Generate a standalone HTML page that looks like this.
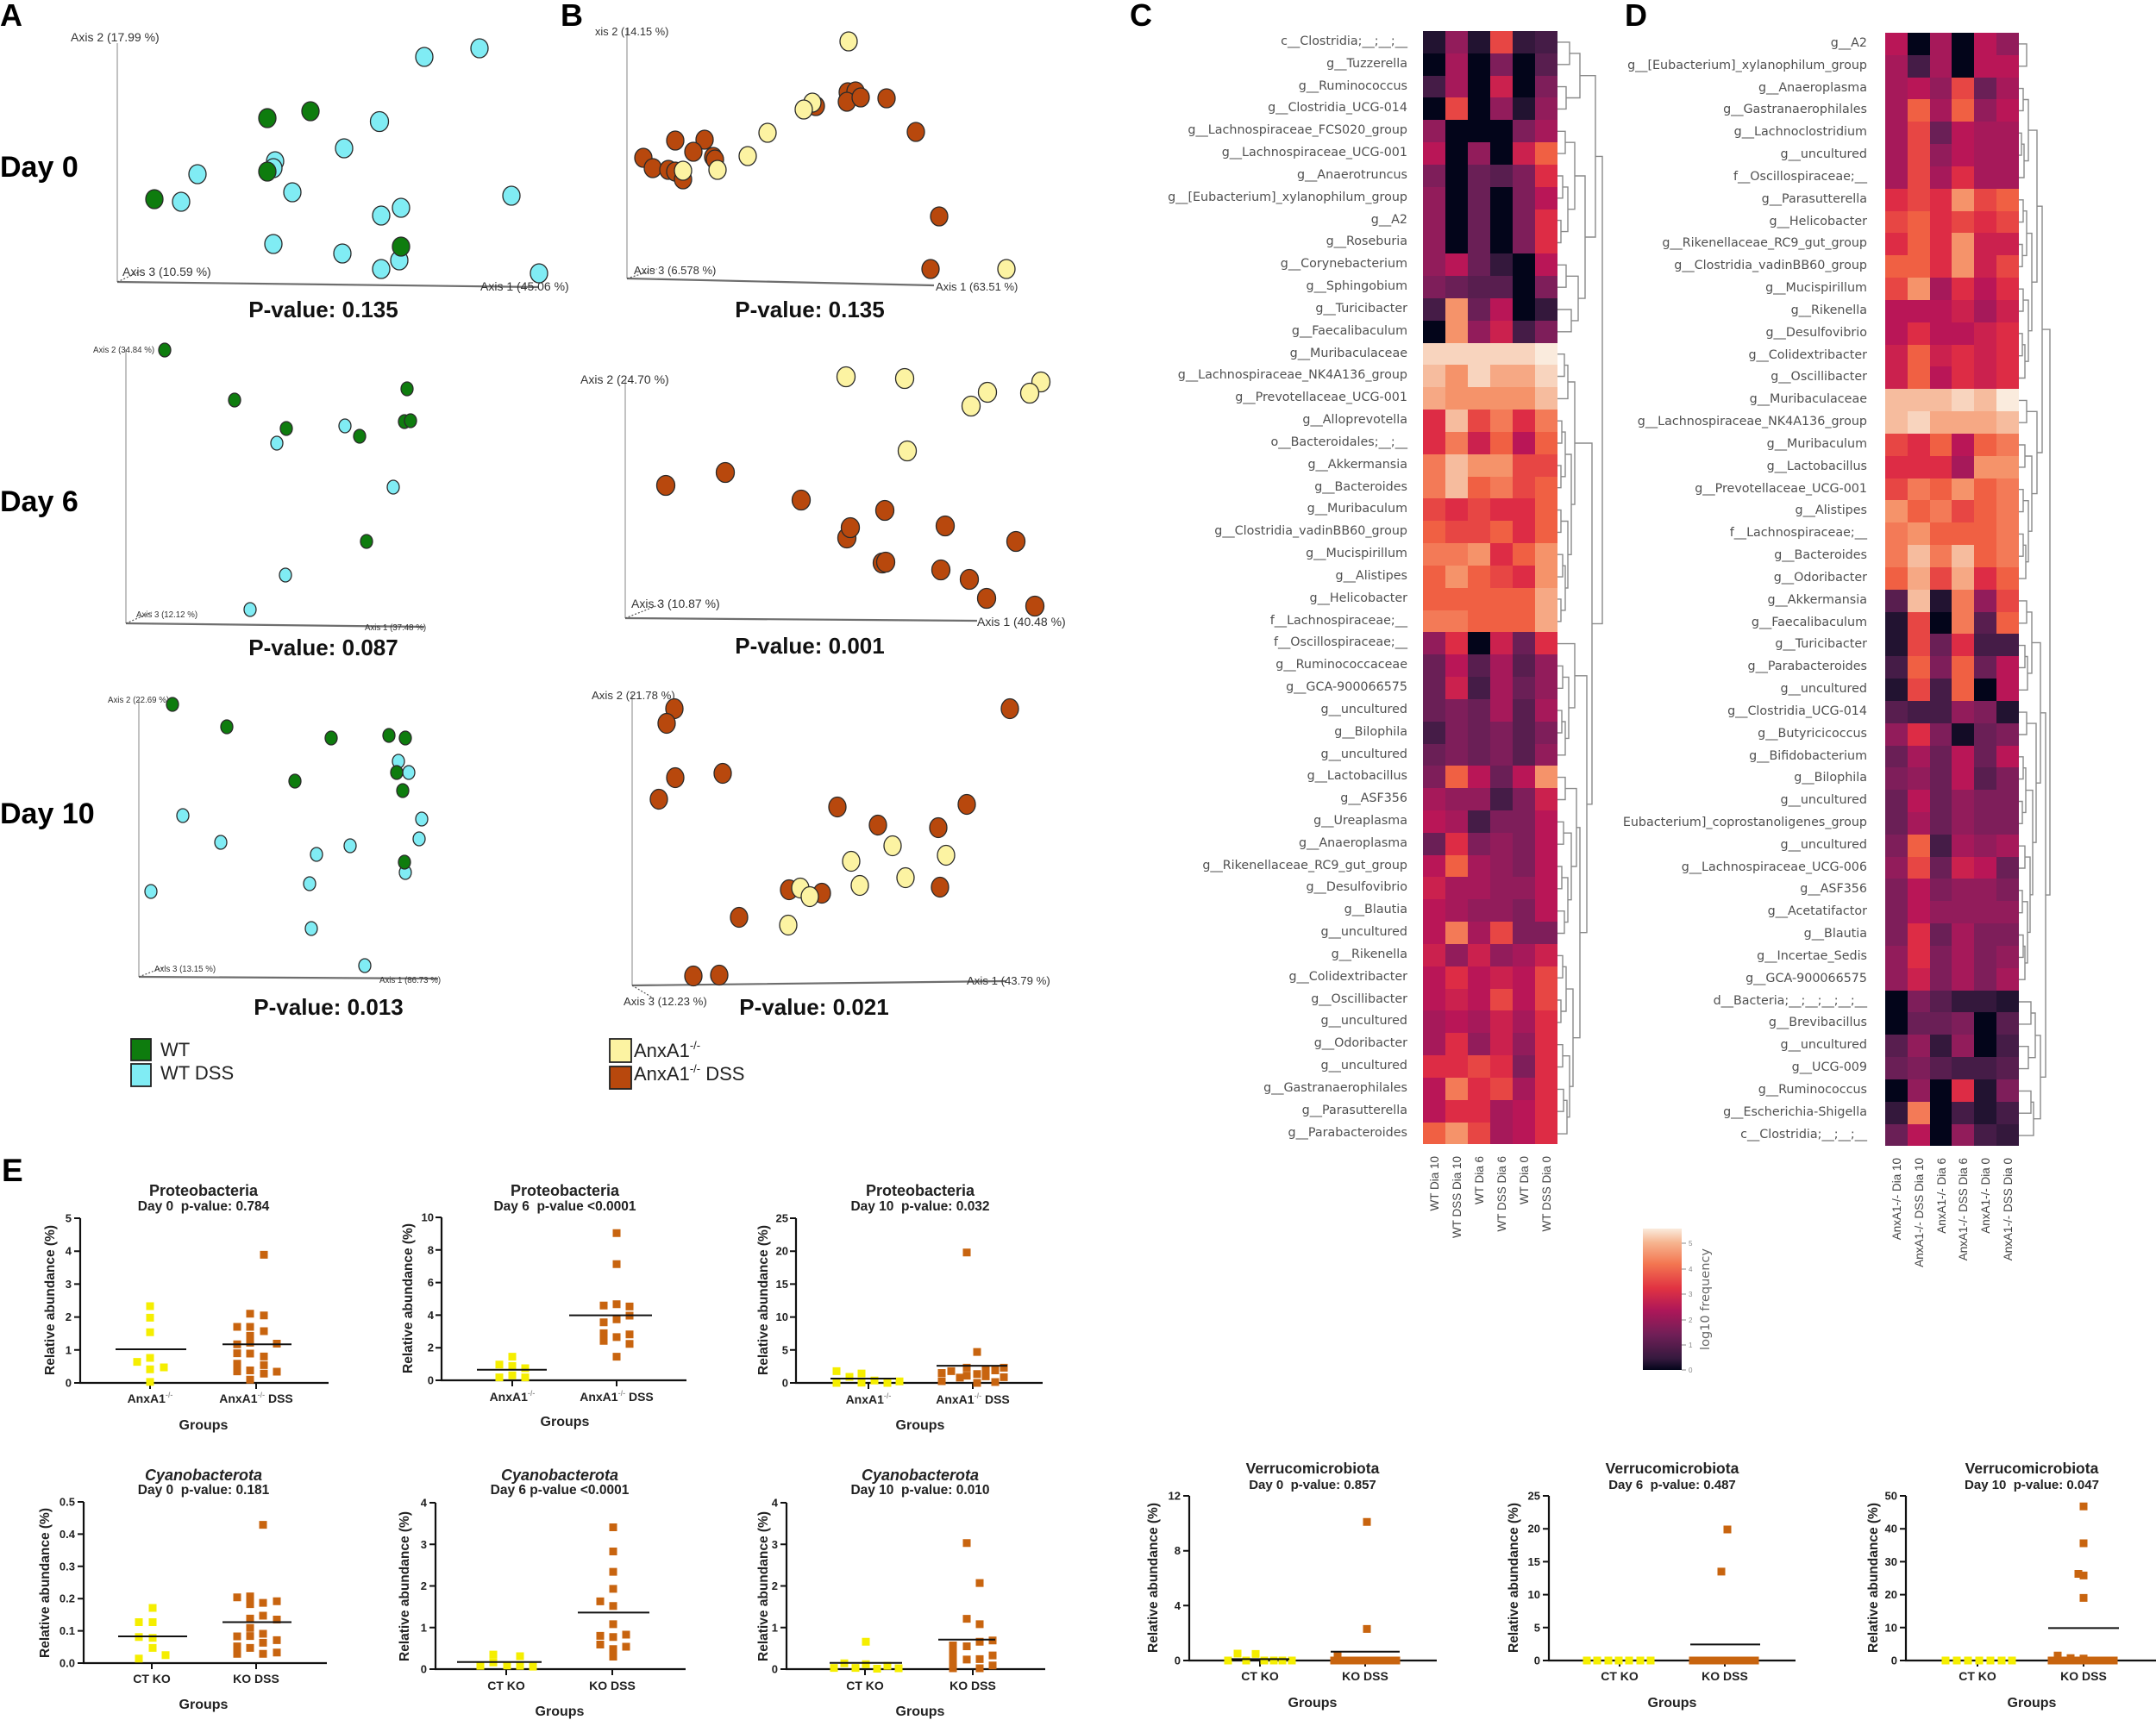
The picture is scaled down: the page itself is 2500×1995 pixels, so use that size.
<!DOCTYPE html>
<html><head><meta charset="utf-8">
<style>
html,body{margin:0;padding:0;background:#fff}
#pg{position:relative;width:2500px;height:1995px;overflow:hidden;background:#fff}
svg{position:absolute;left:0;top:0}
.hm{position:absolute;display:grid;grid-auto-rows:25.84px}
.hm i{display:block}
.lb{position:absolute;width:420px;text-align:right;font-family:"DejaVu Sans",sans-serif;font-size:14.3px;color:#505050}
.lb div{height:25.84px;line-height:25.84px;white-space:nowrap}
.k0{background:#03051A}.k1{background:#130C26}.k2{background:#221331}.k3{background:#34183C}.k4{background:#451C47}
.k5{background:#581E4F}.k6{background:#6A1F56}.k7{background:#7E1E5A}.k8{background:#921C5B}.k9{background:#A6195A}
.k10{background:#B91657}.k11{background:#CB214E}.k12{background:#DD2C45}.k13{background:#E74644}.k14{background:#F06043}
.k15{background:#F37A57}.k16{background:#F5936A}.k17{background:#F6A884}.k18{background:#F6BC9E}.k19{background:#F8D4BE}.k20{background:#FAEBDD}
</style></head><body><div id="pg">

<!-- Heatmap C labels -->
<div class="lb" style="left:1212px;top:36px">
<div>c__Clostridia;__;__;__</div><div>g__Tuzzerella</div><div>g__Ruminococcus</div><div>g__Clostridia_UCG-014</div><div>g__Lachnospiraceae_FCS020_group</div><div>g__Lachnospiraceae_UCG-001</div><div>g__Anaerotruncus</div><div>g__[Eubacterium]_xylanophilum_group</div><div>g__A2</div><div>g__Roseburia</div><div>g__Corynebacterium</div><div>g__Sphingobium</div><div>g__Turicibacter</div><div>g__Faecalibaculum</div><div>g__Muribaculaceae</div><div>g__Lachnospiraceae_NK4A136_group</div><div>g__Prevotellaceae_UCG-001</div><div>g__Alloprevotella</div><div>o__Bacteroidales;__;__</div><div>g__Akkermansia</div><div>g__Bacteroides</div><div>g__Muribaculum</div><div>g__Clostridia_vadinBB60_group</div><div>g__Mucispirillum</div><div>g__Alistipes</div><div>g__Helicobacter</div><div>f__Lachnospiraceae;__</div><div>f__Oscillospiraceae;__</div><div>g__Ruminococcaceae</div><div>g__GCA-900066575</div><div>g__uncultured</div><div>g__Bilophila</div><div>g__uncultured</div><div>g__Lactobacillus</div><div>g__ASF356</div><div>g__Ureaplasma</div><div>g__Anaeroplasma</div><div>g__Rikenellaceae_RC9_gut_group</div><div>g__Desulfovibrio</div><div>g__Blautia</div><div>g__uncultured</div><div>g__Rikenella</div><div>g__Colidextribacter</div><div>g__Oscillibacter</div><div>g__uncultured</div><div>g__Odoribacter</div><div>g__uncultured</div><div>g__Gastranaerophilales</div><div>g__Parasutterella</div><div>g__Parabacteroides</div>
</div>

<!-- Heatmap C -->
<div class="hm" style="left:1650px;top:36px;grid-template-columns:repeat(6,26px)">
<i class=k2></i><i class=k8></i><i class=k2></i><i class=k13></i><i class=k3></i><i class=k4></i>
<i class=k0></i><i class=k9></i><i class=k0></i><i class=k7></i><i class=k0></i><i class=k5></i>
<i class=k4></i><i class=k9></i><i class=k0></i><i class=k11></i><i class=k0></i><i class=k7></i>
<i class=k0></i><i class=k13></i><i class=k0></i><i class=k8></i><i class=k2></i><i class=k8></i>
<i class=k8></i><i class=k0></i><i class=k0></i><i class=k0></i><i class=k7></i><i class=k9></i>
<i class=k10></i><i class=k0></i><i class=k8></i><i class=k0></i><i class=k11></i><i class=k14></i>
<i class=k7></i><i class=k0></i><i class=k6></i><i class=k5></i><i class=k7></i><i class=k12></i>
<i class=k8></i><i class=k0></i><i class=k6></i><i class=k0></i><i class=k7></i><i class=k10></i>
<i class=k8></i><i class=k0></i><i class=k6></i><i class=k0></i><i class=k7></i><i class=k12></i>
<i class=k8></i><i class=k0></i><i class=k6></i><i class=k0></i><i class=k7></i><i class=k12></i>
<i class=k8></i><i class=k10></i><i class=k6></i><i class=k3></i><i class=k0></i><i class=k10></i>
<i class=k7></i><i class=k6></i><i class=k5></i><i class=k5></i><i class=k0></i><i class=k7></i>
<i class=k4></i><i class=k16></i><i class=k6></i><i class=k10></i><i class=k0></i><i class=k3></i>
<i class=k0></i><i class=k16></i><i class=k8></i><i class=k11></i><i class=k4></i><i class=k7></i>
<i class=k19></i><i class=k19></i><i class=k19></i><i class=k19></i><i class=k19></i><i class=k20></i>
<i class=k18></i><i class=k16></i><i class=k19></i><i class=k17></i><i class=k17></i><i class=k19></i>
<i class=k17></i><i class=k16></i><i class=k16></i><i class=k16></i><i class=k16></i><i class=k18></i>
<i class=k12></i><i class=k18></i><i class=k13></i><i class=k15></i><i class=k12></i><i class=k15></i>
<i class=k12></i><i class=k15></i><i class=k11></i><i class=k14></i><i class=k10></i><i class=k14></i>
<i class=k15></i><i class=k18></i><i class=k16></i><i class=k16></i><i class=k13></i><i class=k13></i>
<i class=k15></i><i class=k18></i><i class=k14></i><i class=k15></i><i class=k13></i><i class=k14></i>
<i class=k13></i><i class=k12></i><i class=k13></i><i class=k12></i><i class=k12></i><i class=k14></i>
<i class=k14></i><i class=k13></i><i class=k13></i><i class=k14></i><i class=k12></i><i class=k14></i>
<i class=k15></i><i class=k15></i><i class=k16></i><i class=k12></i><i class=k14></i><i class=k16></i>
<i class=k14></i><i class=k16></i><i class=k14></i><i class=k13></i><i class=k12></i><i class=k16></i>
<i class=k14></i><i class=k14></i><i class=k14></i><i class=k14></i><i class=k14></i><i class=k17></i>
<i class=k15></i><i class=k15></i><i class=k14></i><i class=k14></i><i class=k14></i><i class=k17></i>
<i class=k8></i><i class=k12></i><i class=k0></i><i class=k11></i><i class=k6></i><i class=k12></i>
<i class=k6></i><i class=k10></i><i class=k5></i><i class=k9></i><i class=k5></i><i class=k8></i>
<i class=k6></i><i class=k11></i><i class=k4></i><i class=k9></i><i class=k6></i><i class=k8></i>
<i class=k6></i><i class=k7></i><i class=k6></i><i class=k9></i><i class=k5></i><i class=k9></i>
<i class=k4></i><i class=k7></i><i class=k6></i><i class=k7></i><i class=k5></i><i class=k7></i>
<i class=k6></i><i class=k7></i><i class=k6></i><i class=k7></i><i class=k5></i><i class=k8></i>
<i class=k7></i><i class=k14></i><i class=k10></i><i class=k6></i><i class=k10></i><i class=k16></i>
<i class=k9></i><i class=k8></i><i class=k8></i><i class=k4></i><i class=k7></i><i class=k11></i>
<i class=k10></i><i class=k9></i><i class=k4></i><i class=k7></i><i class=k7></i><i class=k10></i>
<i class=k6></i><i class=k12></i><i class=k7></i><i class=k8></i><i class=k7></i><i class=k10></i>
<i class=k10></i><i class=k14></i><i class=k9></i><i class=k8></i><i class=k7></i><i class=k10></i>
<i class=k11></i><i class=k9></i><i class=k9></i><i class=k8></i><i class=k8></i><i class=k10></i>
<i class=k10></i><i class=k9></i><i class=k8></i><i class=k8></i><i class=k7></i><i class=k10></i>
<i class=k10></i><i class=k15></i><i class=k9></i><i class=k13></i><i class=k7></i><i class=k7></i>
<i class=k11></i><i class=k8></i><i class=k11></i><i class=k8></i><i class=k9></i><i class=k11></i>
<i class=k10></i><i class=k12></i><i class=k10></i><i class=k11></i><i class=k10></i><i class=k13></i>
<i class=k10></i><i class=k11></i><i class=k10></i><i class=k13></i><i class=k10></i><i class=k13></i>
<i class=k9></i><i class=k10></i><i class=k9></i><i class=k11></i><i class=k9></i><i class=k12></i>
<i class=k9></i><i class=k12></i><i class=k8></i><i class=k11></i><i class=k8></i><i class=k12></i>
<i class=k12></i><i class=k12></i><i class=k13></i><i class=k12></i><i class=k7></i><i class=k12></i>
<i class=k10></i><i class=k15></i><i class=k12></i><i class=k13></i><i class=k9></i><i class=k12></i>
<i class=k10></i><i class=k12></i><i class=k12></i><i class=k9></i><i class=k10></i><i class=k12></i>
<i class=k14></i><i class=k16></i><i class=k13></i><i class=k9></i><i class=k10></i><i class=k12></i>
</div>

<!-- Heatmap D labels -->
<div class="lb" style="left:1745px;top:38px">
<div>g__A2</div><div>g__[Eubacterium]_xylanophilum_group</div><div>g__Anaeroplasma</div><div>g__Gastranaerophilales</div><div>g__Lachnoclostridium</div><div>g__uncultured</div><div>f__Oscillospiraceae;__</div><div>g__Parasutterella</div><div>g__Helicobacter</div><div>g__Rikenellaceae_RC9_gut_group</div><div>g__Clostridia_vadinBB60_group</div><div>g__Mucispirillum</div><div>g__Rikenella</div><div>g__Desulfovibrio</div><div>g__Colidextribacter</div><div>g__Oscillibacter</div><div>g__Muribaculaceae</div><div>g__Lachnospiraceae_NK4A136_group</div><div>g__Muribaculum</div><div>g__Lactobacillus</div><div>g__Prevotellaceae_UCG-001</div><div>g__Alistipes</div><div>f__Lachnospiraceae;__</div><div>g__Bacteroides</div><div>g__Odoribacter</div><div>g__Akkermansia</div><div>g__Faecalibaculum</div><div>g__Turicibacter</div><div>g__Parabacteroides</div><div>g__uncultured</div><div>g__Clostridia_UCG-014</div><div>g__Butyricicoccus</div><div>g__Bifidobacterium</div><div>g__Bilophila</div><div>g__uncultured</div><div>Eubacterium]_coprostanoligenes_group</div><div>g__uncultured</div><div>g__Lachnospiraceae_UCG-006</div><div>g__ASF356</div><div>g__Acetatifactor</div><div>g__Blautia</div><div>g__Incertae_Sedis</div><div>g__GCA-900066575</div><div>d__Bacteria;__;__;__;__;__</div><div>g__Brevibacillus</div><div>g__uncultured</div><div>g__UCG-009</div><div>g__Ruminococcus</div><div>g__Escherichia-Shigella</div><div>c__Clostridia;__;__;__</div>
</div>

<!-- Heatmap D -->
<div class="hm" style="left:2186px;top:38px;grid-template-columns:repeat(6,25.83px)">
<i class=k10></i><i class=k0></i><i class=k9></i><i class=k0></i><i class=k10></i><i class=k8></i>
<i class=k9></i><i class=k4></i><i class=k9></i><i class=k0></i><i class=k10></i><i class=k10></i>
<i class=k9></i><i class=k10></i><i class=k8></i><i class=k13></i><i class=k6></i><i class=k9></i>
<i class=k9></i><i class=k14></i><i class=k9></i><i class=k14></i><i class=k8></i><i class=k10></i>
<i class=k9></i><i class=k13></i><i class=k6></i><i class=k10></i><i class=k9></i><i class=k9></i>
<i class=k9></i><i class=k13></i><i class=k8></i><i class=k10></i><i class=k9></i><i class=k9></i>
<i class=k9></i><i class=k13></i><i class=k9></i><i class=k12></i><i class=k9></i><i class=k9></i>
<i class=k12></i><i class=k13></i><i class=k12></i><i class=k16></i><i class=k13></i><i class=k14></i>
<i class=k13></i><i class=k14></i><i class=k12></i><i class=k13></i><i class=k12></i><i class=k13></i>
<i class=k12></i><i class=k14></i><i class=k12></i><i class=k16></i><i class=k11></i><i class=k11></i>
<i class=k14></i><i class=k14></i><i class=k12></i><i class=k16></i><i class=k11></i><i class=k13></i>
<i class=k13></i><i class=k16></i><i class=k9></i><i class=k12></i><i class=k10></i><i class=k12></i>
<i class=k10></i><i class=k10></i><i class=k10></i><i class=k11></i><i class=k9></i><i class=k11></i>
<i class=k10></i><i class=k12></i><i class=k10></i><i class=k10></i><i class=k11></i><i class=k12></i>
<i class=k11></i><i class=k14></i><i class=k11></i><i class=k12></i><i class=k11></i><i class=k12></i>
<i class=k11></i><i class=k14></i><i class=k10></i><i class=k12></i><i class=k11></i><i class=k12></i>
<i class=k18></i><i class=k18></i><i class=k18></i><i class=k19></i><i class=k18></i><i class=k20></i>
<i class=k18></i><i class=k19></i><i class=k17></i><i class=k17></i><i class=k17></i><i class=k18></i>
<i class=k13></i><i class=k12></i><i class=k14></i><i class=k10></i><i class=k14></i><i class=k15></i>
<i class=k12></i><i class=k12></i><i class=k12></i><i class=k9></i><i class=k16></i><i class=k16></i>
<i class=k13></i><i class=k15></i><i class=k14></i><i class=k16></i><i class=k14></i><i class=k15></i>
<i class=k16></i><i class=k14></i><i class=k15></i><i class=k13></i><i class=k14></i><i class=k15></i>
<i class=k15></i><i class=k16></i><i class=k14></i><i class=k14></i><i class=k14></i><i class=k15></i>
<i class=k15></i><i class=k18></i><i class=k15></i><i class=k18></i><i class=k14></i><i class=k15></i>
<i class=k14></i><i class=k17></i><i class=k13></i><i class=k17></i><i class=k12></i><i class=k14></i>
<i class=k5></i><i class=k18></i><i class=k2></i><i class=k15></i><i class=k8></i><i class=k13></i>
<i class=k2></i><i class=k13></i><i class=k0></i><i class=k15></i><i class=k5></i><i class=k14></i>
<i class=k2></i><i class=k13></i><i class=k6></i><i class=k12></i><i class=k4></i><i class=k4></i>
<i class=k4></i><i class=k14></i><i class=k7></i><i class=k14></i><i class=k6></i><i class=k10></i>
<i class=k2></i><i class=k13></i><i class=k4></i><i class=k14></i><i class=k0></i><i class=k10></i>
<i class=k5></i><i class=k4></i><i class=k4></i><i class=k8></i><i class=k7></i><i class=k2></i>
<i class=k8></i><i class=k12></i><i class=k7></i><i class=k1></i><i class=k6></i><i class=k7></i>
<i class=k6></i><i class=k9></i><i class=k6></i><i class=k10></i><i class=k6></i><i class=k10></i>
<i class=k7></i><i class=k8></i><i class=k6></i><i class=k10></i><i class=k5></i><i class=k7></i>
<i class=k6></i><i class=k10></i><i class=k6></i><i class=k8></i><i class=k7></i><i class=k7></i>
<i class=k6></i><i class=k9></i><i class=k6></i><i class=k8></i><i class=k7></i><i class=k7></i>
<i class=k7></i><i class=k14></i><i class=k4></i><i class=k9></i><i class=k8></i><i class=k9></i>
<i class=k8></i><i class=k13></i><i class=k6></i><i class=k11></i><i class=k10></i><i class=k6></i>
<i class=k7></i><i class=k10></i><i class=k7></i><i class=k8></i><i class=k8></i><i class=k7></i>
<i class=k7></i><i class=k10></i><i class=k8></i><i class=k8></i><i class=k8></i><i class=k8></i>
<i class=k7></i><i class=k12></i><i class=k6></i><i class=k9></i><i class=k7></i><i class=k7></i>
<i class=k8></i><i class=k12></i><i class=k7></i><i class=k9></i><i class=k7></i><i class=k8></i>
<i class=k8></i><i class=k11></i><i class=k7></i><i class=k9></i><i class=k7></i><i class=k9></i>
<i class=k0></i><i class=k7></i><i class=k5></i><i class=k3></i><i class=k3></i><i class=k2></i>
<i class=k0></i><i class=k6></i><i class=k6></i><i class=k7></i><i class=k0></i><i class=k5></i>
<i class=k5></i><i class=k8></i><i class=k3></i><i class=k8></i><i class=k0></i><i class=k4></i>
<i class=k6></i><i class=k7></i><i class=k5></i><i class=k4></i><i class=k4></i><i class=k5></i>
<i class=k0></i><i class=k8></i><i class=k0></i><i class=k12></i><i class=k2></i><i class=k7></i>
<i class=k3></i><i class=k15></i><i class=k0></i><i class=k4></i><i class=k2></i><i class=k4></i>
<i class=k6></i><i class=k10></i><i class=k0></i><i class=k8></i><i class=k4></i><i class=k3></i>
</div>

<svg width="2500" height="1995" viewBox="0 0 2500 1995" xmlns="http://www.w3.org/2000/svg" font-family="Liberation Sans, Arial, sans-serif">
<defs>
<linearGradient id="cb" x1="0" y1="0" x2="0" y2="1">
<stop offset="0" stop-color="#faebdd"/><stop offset="0.1" stop-color="#f6b48f"/><stop offset="0.25" stop-color="#f37651"/><stop offset="0.42" stop-color="#e13342"/><stop offset="0.58" stop-color="#ad1759"/><stop offset="0.75" stop-color="#701f57"/><stop offset="0.92" stop-color="#35193e"/><stop offset="1" stop-color="#03051a"/>
</linearGradient>
</defs>

<!-- Panel letters -->
<g font-weight="bold" font-size="36" fill="#000">
<text x="0" y="30">A</text><text x="650" y="30">B</text><text x="1310" y="30">C</text><text x="1884" y="30">D</text><text x="2" y="1370" font-size="37">E</text>
</g>
<g font-weight="bold" font-size="34" fill="#000">
<text x="0" y="205">Day 0</text><text x="0" y="593">Day 6</text><text x="0" y="955">Day 10</text>
</g>

<!-- PCoA axes -->
<g fill="none">
<path d="M136 50V327M727 33V323M146 405V723M725 440V717M161 812V1133M733 805V1143" stroke="#9a9a9a" stroke-width="1.2"/>
<path d="M136 327L625 333M727 323L1083 331M146 723L492 727M725 717L1133 720M161 1133L508 1135M733 1143L1167 1138" stroke="#4a4a4a" stroke-width="2.2" opacity="0.8"/>
<path d="M136 327L162 315M727 323L762 312M146 723L176 710M725 717L768 700M161 1133L192 1121M733 1143L758 1158" stroke="#555" stroke-width="1.2" stroke-dasharray="2,2"/>
</g>
<g fill="#333">
<text x="82" y="48" font-size="14">Axis 2 (17.99 %)</text>
<text x="142" y="320" font-size="14">Axis 3 (10.59 %)</text>
<text x="557" y="337" font-size="14">Axis 1 (45.06 %)</text>
<text x="690" y="41" font-size="12.8">xis 2 (14.15 %)</text>
<text x="735" y="318" font-size="13">Axis 3 (6.578 %)</text>
<text x="1085" y="337" font-size="13">Axis 1 (63.51 %)</text>
<text x="108" y="409" font-size="9.7">Axis 2 (34.84 %)</text>
<text x="158" y="716" font-size="9.7">Axis 3 (12.12 %)</text>
<text x="423" y="731" font-size="9.7">Axis 1 (37.48 %)</text>
<text x="673" y="445" font-size="14">Axis 2 (24.70 %)</text>
<text x="732" y="705" font-size="14">Axis 3 (10.87 %)</text>
<text x="1133" y="726" font-size="14">Axis 1 (40.48 %)</text>
<text x="125" y="815" font-size="9.7">Axis 2 (22.69 %)</text>
<text x="179" y="1127" font-size="9.7">Axis 3 (13.15 %)</text>
<text x="440" y="1140" font-size="9.7">Axis 1 (86.73 %)</text>
<text x="686" y="811" font-size="13.2">Axis 2 (21.78 %)</text>
<text x="723" y="1166" font-size="13.2">Axis 3 (12.23 %)</text>
<text x="1121" y="1142" font-size="13.2">Axis 1 (43.79 %)</text>
</g>
<g font-weight="bold" font-size="26" fill="#111" text-anchor="middle">
<text x="375" y="368">P-value: 0.135</text><text x="939" y="368">P-value: 0.135</text>
<text x="375" y="760">P-value: 0.087</text><text x="939" y="758">P-value: 0.001</text>
<text x="381" y="1177">P-value: 0.013</text><text x="944" y="1177">P-value: 0.021</text>
</g>

<!-- PCoA points -->
<g stroke="#2a2a2a" stroke-width="1.3">
<g fill="#80ecf4">
<ellipse cx="492" cy="66" rx="10" ry="11"/><ellipse cx="556" cy="56" rx="10" ry="11"/><ellipse cx="440" cy="141" rx="10.5" ry="11.5"/><ellipse cx="399" cy="172" rx="10" ry="11"/><ellipse cx="319" cy="187" rx="10" ry="11"/><ellipse cx="317" cy="195" rx="10" ry="11"/><ellipse cx="229" cy="202" rx="10" ry="11"/><ellipse cx="210" cy="234" rx="10" ry="11"/><ellipse cx="339" cy="223" rx="10" ry="11"/><ellipse cx="442" cy="250" rx="10" ry="11"/><ellipse cx="465" cy="241" rx="10" ry="11"/><ellipse cx="593" cy="227" rx="10" ry="11"/><ellipse cx="317" cy="283" rx="10" ry="11"/><ellipse cx="397" cy="294" rx="10" ry="11"/><ellipse cx="442" cy="312" rx="10" ry="11"/><ellipse cx="463" cy="302" rx="10" ry="11"/><ellipse cx="625" cy="317" rx="10" ry="11"/>
</g>
<g fill="#0e7c0e">
<ellipse cx="310" cy="137" rx="10" ry="11"/><ellipse cx="360" cy="129" rx="10" ry="11"/><ellipse cx="310" cy="199" rx="10" ry="11"/><ellipse cx="179" cy="231" rx="10" ry="11"/><ellipse cx="465" cy="286" rx="10" ry="11"/>
</g>
<g fill="#b8480d">
<ellipse cx="983" cy="107" rx="10" ry="11"/><ellipse cx="992" cy="106" rx="10" ry="11"/><ellipse cx="982" cy="118" rx="10" ry="11"/><ellipse cx="998" cy="113" rx="10" ry="11"/><ellipse cx="1028" cy="114" rx="10" ry="11"/><ellipse cx="946" cy="123" rx="10" ry="11"/><ellipse cx="1062" cy="153" rx="10" ry="11"/><ellipse cx="783" cy="163" rx="10" ry="11"/><ellipse cx="817" cy="162" rx="10" ry="11"/><ellipse cx="804" cy="176" rx="10" ry="11"/><ellipse cx="827" cy="182" rx="10" ry="11"/><ellipse cx="829" cy="185" rx="10" ry="11"/><ellipse cx="746" cy="183" rx="10" ry="11"/><ellipse cx="757" cy="195" rx="10" ry="11"/><ellipse cx="775" cy="197" rx="10" ry="11"/><ellipse cx="783" cy="199" rx="10" ry="11"/><ellipse cx="792" cy="208" rx="10" ry="11"/><ellipse cx="1089" cy="251" rx="10" ry="11"/><ellipse cx="1079" cy="312" rx="10" ry="11"/>
</g>
<g fill="#fcf3a2">
<ellipse cx="984" cy="48" rx="10" ry="11"/><ellipse cx="942" cy="119" rx="10" ry="11"/><ellipse cx="932" cy="127" rx="10" ry="11"/><ellipse cx="890" cy="154" rx="10" ry="11"/><ellipse cx="867" cy="181" rx="10" ry="11"/><ellipse cx="832" cy="197" rx="10" ry="11"/><ellipse cx="792" cy="198" rx="10" ry="11"/><ellipse cx="1167" cy="312" rx="10" ry="11"/>
</g>
<!-- Day 6 A -->
<g fill="#80ecf4">
<ellipse cx="400" cy="494" rx="7" ry="8"/><ellipse cx="321" cy="514" rx="7" ry="8"/><ellipse cx="456" cy="565" rx="7" ry="8"/><ellipse cx="331" cy="667" rx="7" ry="8"/><ellipse cx="290" cy="707" rx="7" ry="8"/>
</g>
<g fill="#0e7c0e">
<ellipse cx="191" cy="406" rx="7" ry="8"/><ellipse cx="472" cy="451" rx="7" ry="8"/><ellipse cx="272" cy="464" rx="7" ry="8"/><ellipse cx="332" cy="497" rx="7" ry="8"/><ellipse cx="417" cy="506" rx="7" ry="8"/><ellipse cx="469" cy="489" rx="7" ry="8"/><ellipse cx="476" cy="488" rx="7" ry="8"/><ellipse cx="425" cy="628" rx="7" ry="8"/>
</g>
<!-- Day 6 B -->
<g fill="#fcf3a2">
<ellipse cx="981" cy="437" rx="10.5" ry="11.5"/><ellipse cx="1049" cy="439" rx="10.5" ry="11.5"/><ellipse cx="1207" cy="443" rx="10.5" ry="11.5"/><ellipse cx="1194" cy="456" rx="10.5" ry="11.5"/><ellipse cx="1145" cy="455" rx="10.5" ry="11.5"/><ellipse cx="1126" cy="471" rx="10.5" ry="11.5"/><ellipse cx="1052" cy="523" rx="10.5" ry="11.5"/>
</g>
<g fill="#b8480d">
<ellipse cx="841" cy="548" rx="10.5" ry="11.5"/><ellipse cx="772" cy="563" rx="10.5" ry="11.5"/><ellipse cx="929" cy="580" rx="10.5" ry="11.5"/><ellipse cx="1026" cy="592" rx="10.5" ry="11.5"/><ellipse cx="982" cy="624" rx="10.5" ry="11.5"/><ellipse cx="986" cy="612" rx="10.5" ry="11.5"/><ellipse cx="1096" cy="610" rx="10.5" ry="11.5"/><ellipse cx="1178" cy="628" rx="10.5" ry="11.5"/><ellipse cx="1023" cy="653" rx="10.5" ry="11.5"/><ellipse cx="1027" cy="652" rx="10.5" ry="11.5"/><ellipse cx="1091" cy="661" rx="10.5" ry="11.5"/><ellipse cx="1124" cy="672" rx="10.5" ry="11.5"/><ellipse cx="1144" cy="694" rx="10.5" ry="11.5"/><ellipse cx="1200" cy="703" rx="10.5" ry="11.5"/>
</g>
<!-- Day 10 A -->
<g fill="#80ecf4">
<ellipse cx="462" cy="883" rx="7" ry="8"/><ellipse cx="474" cy="896" rx="7" ry="8"/><ellipse cx="212" cy="946" rx="7" ry="8"/><ellipse cx="489" cy="950" rx="7" ry="8"/><ellipse cx="486" cy="973" rx="7" ry="8"/><ellipse cx="256" cy="977" rx="7" ry="8"/><ellipse cx="406" cy="981" rx="7" ry="8"/><ellipse cx="367" cy="991" rx="7" ry="8"/><ellipse cx="470" cy="1012" rx="7" ry="8"/><ellipse cx="359" cy="1025" rx="7" ry="8"/><ellipse cx="175" cy="1034" rx="7" ry="8"/><ellipse cx="361" cy="1077" rx="7" ry="8"/><ellipse cx="423" cy="1120" rx="7" ry="8"/>
</g>
<g fill="#0e7c0e">
<ellipse cx="200" cy="817" rx="7" ry="8"/><ellipse cx="263" cy="843" rx="7" ry="8"/><ellipse cx="384" cy="856" rx="7" ry="8"/><ellipse cx="451" cy="853" rx="7" ry="8"/><ellipse cx="470" cy="856" rx="7" ry="8"/><ellipse cx="460" cy="896" rx="7" ry="8"/><ellipse cx="342" cy="906" rx="7" ry="8"/><ellipse cx="467" cy="917" rx="7" ry="8"/><ellipse cx="469" cy="1000" rx="7" ry="8"/>
</g>
<!-- Day 10 B -->
<g fill="#b8480d">
<ellipse cx="782" cy="822" rx="10" ry="11.5"/><ellipse cx="773" cy="839" rx="10" ry="11.5"/><ellipse cx="1171" cy="822" rx="10" ry="11.5"/><ellipse cx="783" cy="902" rx="10" ry="11.5"/><ellipse cx="838" cy="897" rx="10" ry="11.5"/><ellipse cx="764" cy="927" rx="10" ry="11.5"/><ellipse cx="971" cy="936" rx="10" ry="11.5"/><ellipse cx="1121" cy="933" rx="10" ry="11.5"/><ellipse cx="1018" cy="957" rx="10" ry="11.5"/><ellipse cx="1088" cy="960" rx="10" ry="11.5"/><ellipse cx="1090" cy="1029" rx="10" ry="11.5"/><ellipse cx="915" cy="1032" rx="10" ry="11.5"/><ellipse cx="953" cy="1036" rx="10" ry="11.5"/><ellipse cx="857" cy="1064" rx="10" ry="11.5"/><ellipse cx="804" cy="1132" rx="10" ry="11.5"/><ellipse cx="834" cy="1131" rx="10" ry="11.5"/>
</g>
<g fill="#fcf3a2">
<ellipse cx="1035" cy="981" rx="10" ry="11.5"/><ellipse cx="1097" cy="992" rx="10" ry="11.5"/><ellipse cx="987" cy="999" rx="10" ry="11.5"/><ellipse cx="1050" cy="1018" rx="10" ry="11.5"/><ellipse cx="997" cy="1027" rx="10" ry="11.5"/><ellipse cx="928" cy="1030" rx="10" ry="11.5"/><ellipse cx="939" cy="1040" rx="10" ry="11.5"/><ellipse cx="914" cy="1073" rx="10" ry="11.5"/>
</g>
</g>

<!-- Legends -->
<g stroke="#222" stroke-width="1.8">
<rect x="152" y="1205" width="23" height="25" fill="#0e7c0e"/>
<rect x="152" y="1234" width="23" height="26" fill="#80ecf4"/>
<rect x="707" y="1205" width="25" height="27" fill="#fcf3a2"/>
<rect x="707" y="1237" width="25" height="26" fill="#b8480d"/>
</g>
<g font-size="22" fill="#222">
<text x="186" y="1225">WT</text>
<text x="186" y="1252">WT DSS</text>
<text x="735" y="1226">AnxA1<tspan font-size="13" dy="-9">-/-</tspan></text>
<text x="735" y="1253">AnxA1<tspan font-size="13" dy="-9">-/-</tspan><tspan dy="9"> DSS</tspan></text>
</g>

<!-- Dendrograms -->
<path fill="none" stroke="#8a8a8a" stroke-width="1.4" d="M1806 48.9H1820V74.8H1806M1806 100.6H1816V126.4H1806M1820 61.9H1832V113.5H1816M1806 152.3H1815V178.1H1806M1806 204H1812V229.8H1806M1806 255.6H1810V281.5H1806M1812 216.9H1818V268.6H1810M1815 165.2H1826V242.7H1818M1806 307.3H1816V333.2H1806M1806 359H1822V384.8H1806M1816 320.3H1830V371.9H1822M1826 204H1838V346.1H1830M1832 87.7H1850V275H1838M1806 410.7H1814V436.5H1806M1814 423.6H1818V462.4H1806M1806 488.2H1811V514H1806M1806 539.9H1810V565.7H1806M1811 501.1H1815V552.8H1810M1806 591.6H1810V617.4H1806M1806 643.2H1812V669.1H1806M1806 694.9H1810V720.8H1806M1812 656.2H1815V707.9H1810M1810 604.5H1818V682H1815M1815 527H1822V643.3H1818M1818 443H1826V585.1H1822M1806 772.4H1812V798.3H1806M1806 824.1H1811V850H1806M1811 837H1815V875.8H1806M1812 785.4H1819V856.4H1815M1806 746.6H1826V820.9H1819M1806 901.6H1815V927.5H1806M1806 953.3H1813V979.2H1806M1806 1005H1811V1030.8H1806M1806 1056.7H1814V1082.5H1806M1811 1017.9H1818V1069.6H1814M1813 966.2H1822V1043.7H1818M1815 914.6H1828V1005H1822M1806 1108.4H1812V1134.2H1806M1806 1160H1810V1185.9H1806M1812 1121.3H1816V1173H1810M1806 1211.7H1812V1237.6H1806M1806 1263.4H1813V1289.2H1806M1813 1276.3H1817V1315.1H1806M1812 1224.7H1820V1295.7H1817M1816 1147.1H1824V1260.2H1820M1828 959.8H1832V1203.7H1824M1826 783.8H1840V1081.7H1832M1826 514H1846V932.8H1840M1850 181.4H1858V723.4H1846"/>
<path fill="none" stroke="#8a8a8a" stroke-width="1.4" d="M2341 50.9H2350V76.8H2341M2341 102.6H2346V128.4H2341M2341 154.3H2344V180.1H2341M2344 167.2H2347V206H2341M2346 115.5H2352V186.6H2347M2341 231.8H2346V257.6H2341M2341 283.5H2345V309.3H2341M2346 244.7H2350V296.4H2345M2341 335.2H2346V361H2341M2341 386.8H2345V412.7H2341M2345 399.8H2348V438.5H2341M2346 348.1H2352V419.2H2348M2350 270.6H2356V383.7H2352M2352 151.1H2362V327.2H2356M2341 464.4H2350V490.2H2341M2341 516H2348V541.9H2341M2341 567.7H2346V593.6H2341M2341 619.4H2346V645.2H2341M2346 632.3H2349V671.1H2341M2346 580.7H2352V651.7H2349M2348 529H2356V616.2H2352M2350 477.3H2362V572.6H2356M2362 239.2H2368V525H2362M2341 696.9H2350V722.8H2341M2341 748.6H2348V774.4H2341M2348 761.5H2351V800.3H2341M2350 709.9H2356V780.9H2351M2341 826.1H2350V852H2341M2341 877.8H2346V903.6H2341M2341 929.5H2345V955.3H2341M2346 890.7H2349V942.4H2345M2341 981.2H2348V1007H2341M2341 1032.8H2345V1058.7H2341M2341 1084.5H2346V1110.4H2341M2346 1097.5H2348V1136.2H2341M2345 1045.8H2351V1116.9H2348M2348 994.1H2354V1081.4H2351M2349 916.6H2357V1037.8H2354M2350 839.1H2361V977.2H2357M2356 745.4H2366V908.2H2361M2341 1162H2355V1187.9H2341M2341 1213.7H2352V1239.6H2341M2355 1175H2360V1226.7H2352M2341 1265.4H2355V1291.2H2341M2355 1278.3H2358V1317.1H2341M2360 1200.9H2366V1297.7H2358M2366 826.8H2372V1249.3H2366M2368 382.1H2377V1038.1H2372"/>

<!-- Heatmap column labels -->
<g font-size="13.5" fill="#444" text-anchor="end">
<text transform="translate(1668,1341) rotate(-90)">WT Dia 10</text>
<text transform="translate(1694,1341) rotate(-90)">WT DSS Dia 10</text>
<text transform="translate(1720,1341) rotate(-90)">WT Dia 6</text>
<text transform="translate(1746,1341) rotate(-90)">WT DSS Dia 6</text>
<text transform="translate(1772,1341) rotate(-90)">WT Dia 0</text>
<text transform="translate(1798,1341) rotate(-90)">WT DSS Dia 0</text>
<text transform="translate(2204,1343) rotate(-90)">AnxA1-/- Dia 10</text>
<text transform="translate(2230,1343) rotate(-90)">AnxA1-/- DSS Dia 10</text>
<text transform="translate(2256,1343) rotate(-90)">AnxA1-/- Dia 6</text>
<text transform="translate(2281,1343) rotate(-90)">AnxA1-/- DSS Dia 6</text>
<text transform="translate(2307,1343) rotate(-90)">AnxA1-/- Dia 0</text>
<text transform="translate(2333,1343) rotate(-90)">AnxA1-/- DSS Dia 0</text>
</g>

<!-- Colorbar -->
<rect x="1905" y="1425" width="45" height="164" fill="url(#cb)"/>
<path d="M1950 1442h5M1950 1472h5M1950 1501h5M1950 1531h5M1950 1560h5M1950 1589h5" stroke="#888" stroke-width="1"/>
<g font-size="8" fill="#888">
<text x="1958" y="1445">5</text><text x="1958" y="1475">4</text><text x="1958" y="1504">3</text><text x="1958" y="1534">2</text><text x="1958" y="1563">1</text><text x="1958" y="1592">0</text>
</g>
<text transform="translate(1982,1507) rotate(-90)" text-anchor="middle" font-family="DejaVu Sans, sans-serif" font-size="14.5" fill="#666">log10 frequency</text>

<!-- Panel E -->
<g font-weight="bold" fill="#222">
<!-- axes -->
<path fill="none" stroke="#111" stroke-width="2.2" d="M93 1413V1604H381M512 1412V1601H796M923 1413V1604H1209M97 1742V1929H379M505 1743V1936H795M912 1743V1936H1212M1379 1735V1926H1666M1796 1735V1926H2082M2210 1735V1926H2500"/>
<path fill="none" stroke="#111" stroke-width="2" d="M86 1604H93M86 1565.8H93M86 1527.6H93M86 1489.4H93M86 1451.2H93M86 1413H93M174 1604V1611M297 1604V1611
M505 1601H512M505 1563.2H512M505 1525.4H512M505 1487.6H512M505 1449.8H512M505 1412H512M594 1601V1608M715 1601V1608
M916 1604H923M916 1565.8H923M916 1527.6H923M916 1489.4H923M916 1451.2H923M916 1413H923M1007 1604V1611M1128 1604V1611
M90 1929H97M90 1891.6H97M90 1854.2H97M90 1816.8H97M90 1779.4H97M90 1742H97M176 1929V1936M297 1929V1936
M498 1936H505M498 1887.75H505M498 1839.5H505M498 1791.25H505M498 1743H505M587 1936V1943M710 1936V1943
M905 1936H912M905 1887.75H912M905 1839.5H912M905 1791.25H912M905 1743H912M1003 1936V1943M1128 1936V1943
M1372 1926H1379M1372 1862.3H1379M1372 1798.7H1379M1372 1735H1379M1461 1926V1933M1583 1926V1933
M1789 1926H1796M1789 1887.8H1796M1789 1849.6H1796M1789 1811.4H1796M1789 1773.2H1796M1789 1735H1796M1878 1926V1933M2000 1926V1933
M2203 1926H2210M2203 1887.8H2210M2203 1849.6H2210M2203 1811.4H2210M2203 1773.2H2210M2203 1735H2210M2293 1926V1933M2416 1926V1933"/>
<!-- y tick labels -->
<g font-size="13" text-anchor="end">
<text x="83" y="1608.5">0</text><text x="83" y="1570.3">1</text><text x="83" y="1532.1">2</text><text x="83" y="1493.9">3</text><text x="83" y="1455.7">4</text><text x="83" y="1417.5">5</text>
<text x="503" y="1605.5">0</text><text x="503" y="1567.7">2</text><text x="503" y="1529.9">4</text><text x="503" y="1492.1">6</text><text x="503" y="1454.3">8</text><text x="503" y="1416.5">10</text>
<text x="914" y="1608.5">0</text><text x="914" y="1570.3">5</text><text x="914" y="1532.1">10</text><text x="914" y="1493.9">15</text><text x="914" y="1455.7">20</text><text x="914" y="1417.5">25</text>
<text x="87" y="1933.5">0.0</text><text x="87" y="1896.1">0.1</text><text x="87" y="1858.7">0.2</text><text x="87" y="1821.3">0.3</text><text x="87" y="1783.9">0.4</text><text x="87" y="1746.5">0.5</text>
<text x="495" y="1940.5">0</text><text x="495" y="1892.25">1</text><text x="495" y="1844">2</text><text x="495" y="1795.75">3</text><text x="495" y="1747.5">4</text>
<text x="902" y="1940.5">0</text><text x="902" y="1892.25">1</text><text x="902" y="1844">2</text><text x="902" y="1795.75">3</text><text x="902" y="1747.5">4</text>
<text x="1369" y="1930.5">0</text><text x="1369" y="1866.8">4</text><text x="1369" y="1803.2">8</text><text x="1369" y="1739.5">12</text>
<text x="1786" y="1930.5">0</text><text x="1786" y="1892.3">5</text><text x="1786" y="1854.1">10</text><text x="1786" y="1815.9">15</text><text x="1786" y="1777.7">20</text><text x="1786" y="1739.5">25</text>
<text x="2200" y="1930.5">0</text><text x="2200" y="1892.3">10</text><text x="2200" y="1854.1">20</text><text x="2200" y="1815.9">30</text><text x="2200" y="1777.7">40</text><text x="2200" y="1739.5">50</text>
</g>
<!-- y axis labels -->
<g font-size="15.5" text-anchor="middle">
<text transform="translate(63,1508) rotate(-90)">Relative abundance (%)</text>
<text transform="translate(478,1506) rotate(-90)">Relative abundance (%)</text>
<text transform="translate(890,1508) rotate(-90)">Relative abundance (%)</text>
<text transform="translate(57,1836) rotate(-90)">Relative abundance (%)</text>
<text transform="translate(474,1840) rotate(-90)">Relative abundance (%)</text>
<text transform="translate(890,1840) rotate(-90)">Relative abundance (%)</text>
<text transform="translate(1342,1830) rotate(-90)">Relative abundance (%)</text>
<text transform="translate(1760,1830) rotate(-90)">Relative abundance (%)</text>
<text transform="translate(2177,1830) rotate(-90)">Relative abundance (%)</text>
</g>
<!-- titles -->
<g text-anchor="middle">
<text x="236" y="1387" font-size="18">Proteobacteria</text>
<text x="236" y="1404" font-size="15.5">Day 0&#160;&#160;p-value: 0.784</text>
<text x="655" y="1387" font-size="18">Proteobacteria</text>
<text x="655" y="1404" font-size="15.5">Day 6&#160;&#160;p-value &lt;0.0001</text>
<text x="1067" y="1387" font-size="18">Proteobacteria</text>
<text x="1067" y="1404" font-size="15.5">Day 10&#160;&#160;p-value: 0.032</text>
<text x="236" y="1717" font-size="18" font-style="italic">Cyanobacterota</text>
<text x="236" y="1733" font-size="15.5">Day 0&#160;&#160;p-value: 0.181</text>
<text x="649" y="1717" font-size="18" font-style="italic">Cyanobacterota</text>
<text x="649" y="1733" font-size="15.5">Day 6 p-value &lt;0.0001</text>
<text x="1067" y="1717" font-size="18" font-style="italic">Cyanobacterota</text>
<text x="1067" y="1733" font-size="15.5">Day 10&#160;&#160;p-value: 0.010</text>
<text x="1522" y="1709" font-size="17.5">Verrucomicrobiota</text>
<text x="1522" y="1727" font-size="15">Day 0&#160;&#160;p-value: 0.857</text>
<text x="1939" y="1709" font-size="17.5">Verrucomicrobiota</text>
<text x="1939" y="1727" font-size="15">Day 6&#160;&#160;p-value: 0.487</text>
<text x="2356" y="1709" font-size="17.5">Verrucomicrobiota</text>
<text x="2356" y="1727" font-size="15">Day 10&#160;&#160;p-value: 0.047</text>
</g>
<!-- x tick labels -->
<g text-anchor="middle" font-size="14">
<text x="174" y="1627">AnxA1<tspan font-size="9" dy="-6" fill="#999">-/-</tspan></text>
<text x="297" y="1627">AnxA1<tspan font-size="9" dy="-6" fill="#999">-/-</tspan><tspan dy="6"> DSS</tspan></text>
<text x="594" y="1625">AnxA1<tspan font-size="9" dy="-6" fill="#999">-/-</tspan></text>
<text x="715" y="1625">AnxA1<tspan font-size="9" dy="-6" fill="#999">-/-</tspan><tspan dy="6"> DSS</tspan></text>
<text x="1007" y="1628">AnxA1<tspan font-size="9" dy="-6" fill="#999">-/-</tspan></text>
<text x="1128" y="1628">AnxA1<tspan font-size="9" dy="-6" fill="#999">-/-</tspan><tspan dy="6"> DSS</tspan></text>
<text x="176" y="1952">CT KO</text><text x="297" y="1952">KO DSS</text>
<text x="587" y="1960">CT KO</text><text x="710" y="1960">KO DSS</text>
<text x="1003" y="1960">CT KO</text><text x="1128" y="1960">KO DSS</text>
<text x="1461" y="1949">CT KO</text><text x="1583" y="1949">KO DSS</text>
<text x="1878" y="1949">CT KO</text><text x="2000" y="1949">KO DSS</text>
<text x="2293" y="1949">CT KO</text><text x="2416" y="1949">KO DSS</text>
</g>
<g text-anchor="middle" font-size="16">
<text x="236" y="1658">Groups</text><text x="655" y="1654">Groups</text><text x="1067" y="1658">Groups</text>
<text x="236" y="1982">Groups</text><text x="649" y="1990">Groups</text><text x="1067" y="1990">Groups</text>
<text x="1522" y="1980">Groups</text><text x="1939" y="1980">Groups</text><text x="2356" y="1980">Groups</text>
</g>
</g>

<!-- E data: yellow -->
<path fill="none" stroke="#f5ee00" stroke-width="9" stroke-linecap="square" d="
M174 1515h.01M174 1528.4h.01M174 1545.2h.01M159 1579.6h.01M174 1575h.01M174 1588.3h.01M190 1586h.01M174 1602.9h.01
M579 1582.7h.01M594 1573.6h.01M594 1584.4h.01M609 1587h.01M579 1597.6h.01M594 1595.3h.01M609 1597.6h.01
M970 1590.4h.01M985 1597h.01M999 1593.1h.01M1014 1601.3h.01M970 1604h.01M999 1603.7h.01M1029 1604h.01M1043 1602.3h.01
M177 1865h.01M161 1881.5h.01M177 1881.5h.01M161 1898.7h.01M177 1899.8h.01M177 1911.4h.01M192 1919.7h.01M161 1923.8h.01
M572 1919.1h.01M603 1921h.01M572 1928.3h.01M557 1932.1h.01M588 1931.7h.01M603 1932.1h.01M618 1933.1h.01
M1004 1904.2h.01M979 1929.2h.01M1004 1930.2h.01M967 1934.6h.01M992 1934.6h.01M1017 1935.5h.01M1029 1932.1h.01M1042 1935h.01
M1424 1926h.01M1435 1918h.01M1445 1926h.01M1456 1918.4h.01M1466 1926h.01M1477 1926h.01M1487 1926h.01M1498 1926h.01
M1840 1926h.01M1852 1926h.01M1865 1926h.01M1877 1926h.01M1889 1926h.01M1902 1926h.01M1914 1926h.01
M2256 1926h.01M2269 1926h.01M2282 1926h.01M2295 1926h.01M2308 1926h.01M2321 1926h.01M2333 1926h.01"/>
<!-- E data: orange -->
<path fill="none" stroke="#c8640f" stroke-width="9" stroke-linecap="square" d="
M306 1455.4h.01M290 1523.8h.01M306 1525.7h.01M275 1539h.01M290 1539h.01M306 1544h.01M290 1549.4h.01M290 1557.4h.01M275 1559.3h.01M321 1558.5h.01M275 1569.6h.01M290 1570h.01M306 1573.4h.01M306 1583.4h.01M275 1581.8h.01M275 1590.6h.01M290 1589.5h.01M306 1593.3h.01M321 1591h.01M290 1600.2h.01
M715 1430.3h.01M715 1466.2h.01M700 1514.2h.01M715 1512.7h.01M730 1515.4h.01M730 1526h.01M715 1530.3h.01M700 1533.7h.01M700 1546.4h.01M730 1547.7h.01M715 1550.9h.01M700 1555.3h.01M730 1558.7h.01M715 1573.6h.01
M1121 1452.7h.01M1133 1568.1h.01M1092 1592.5h.01M1103 1590.4h.01M1121 1586.4h.01M1143 1588h.01M1154 1589.5h.01M1164 1586.4h.01M1092 1602h.01M1113 1597.9h.01M1121 1595.6h.01M1133 1593.7h.01M1143 1596.4h.01M1164 1597.4h.01M1133 1604h.01M1154 1603h.01
M305 1768.6h.01M275 1852.7h.01M290 1851.6h.01M290 1860.6h.01M305 1859.1h.01M321 1857.2h.01M305 1874h.01M290 1877.4h.01M321 1878.5h.01M290 1888.2h.01M275 1898h.01M290 1897.6h.01M305 1895h.01M321 1902.4h.01M305 1905.4h.01M275 1909.6h.01M290 1911.4h.01M275 1918.2h.01M305 1918.2h.01M321 1916.7h.01
M711 1771.5h.01M711 1799.5h.01M711 1823.1h.01M711 1842.9h.01M696 1857.4h.01M711 1862.7h.01M711 1883.9h.01M696 1897.4h.01M711 1898.8h.01M726 1896h.01M696 1907.5h.01M711 1912.8h.01M726 1910h.01M711 1921.5h.01
M1121 1789.8h.01M1136 1836.1h.01M1121 1877.6h.01M1136 1883.9h.01M1151 1902.7h.01M1136 1904.2h.01M1105 1908.5h.01M1121 1909.5h.01M1151 1920.1h.01M1121 1924.9h.01M1136 1924.4h.01M1151 1931.7h.01M1136 1935h.01M1105 1914.3h.01M1105 1920.6h.01M1105 1927.3h.01M1105 1935h.01
M1585 1765.2h.01M1585 1889.4h.01M1551 1919.6h.01M1547 1926h.01M1555 1926h.01M1563 1926h.01M1571 1926h.01M1579 1926h.01M1587 1926h.01M1595 1926h.01M1603 1926h.01M1611 1926h.01M1619 1926h.01
M2003 1774h.01M1996 1822.9h.01M1963 1926h.01M1971 1926h.01M1979 1926h.01M1987 1926h.01M1995 1926h.01M2003 1926h.01M2011 1926h.01M2019 1926h.01M2027 1926h.01M2035 1926h.01
M2416 1747.2h.01M2416 1790h.01M2410 1825.5h.01M2416 1827.4h.01M2416 1853.4h.01M2386 1920.3h.01M2401 1923.3h.01M2416 1923.7h.01M2379 1926h.01M2387 1926h.01M2395 1926h.01M2403 1926h.01M2411 1926h.01M2419 1926h.01M2427 1926h.01M2435 1926h.01M2443 1926h.01M2451 1926h.01"/>
<!-- mean lines -->
<path fill="none" stroke="#111" stroke-width="2" d="M134 1565H216M258 1559.3H338M553 1588.7H634M660 1525.6H756M963 1599H1039M1086 1584.1H1168M137 1898H217M258 1881.5H338M530 1927.8H628M670 1870.4H753M962 1928.8H1046M1088 1901.7H1154M1428 1924.4H1495M1543 1915.8H1623M1960 1907.4H2041M2375 1888.4H2457"/>
</svg>
</div></body></html>
